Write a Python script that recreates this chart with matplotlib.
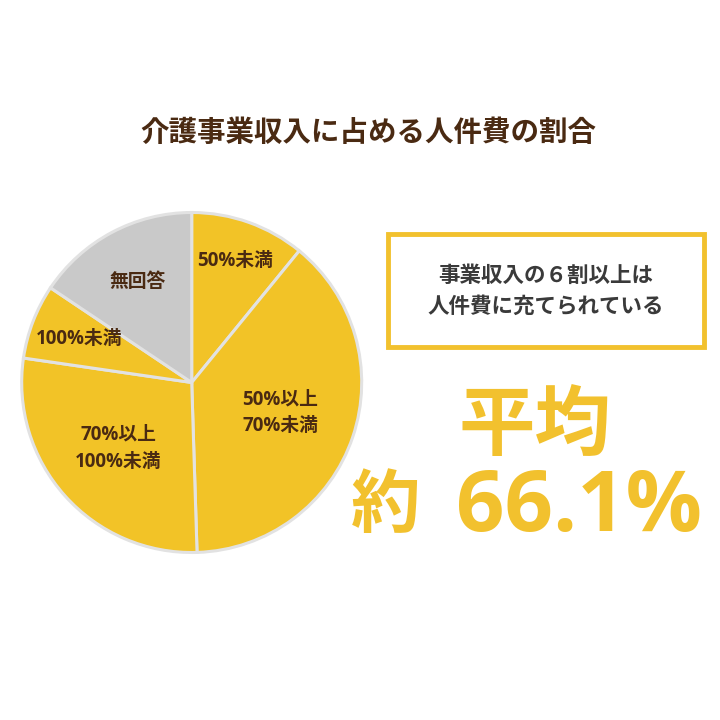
import numpy as np
import matplotlib
matplotlib.use("Agg")
import matplotlib.pyplot as plt
from matplotlib.patches import Rectangle

plt.rcParams['font.family'] = ['Noto Sans CJK JP', 'DejaVu Sans']
mixed = ['Open Sans', 'Noto Sans CJK JP']

# 割合（%）: 時計回り、12時の位置から
labels = ['50%未満', '50%以上\n70%未満', '70%以上\n100%未満', '100%未満', '無回答']
shares = [10.9, 38.6, 27.8, 7.1, 15.6]
colors = ['#F2C327', '#F2C327', '#F2C327', '#F2C327', '#C9C9C9']
label_r = [0.76, 0.55, 0.58, 0.71, 0.67]

title = '介護事業収入に占める人件費の割合'
box_text = '事業収入の６割以上は\n人件費に充てられている'
avg_text = '平均'
avg_prefix = '約'
avg_value = '66.1%'

brown = '#4A2A12'
yellow = '#F2C12E'

fig = plt.figure(figsize=(7.2, 7.2), dpi=100)
ax = fig.add_axes([0, 0, 1, 1])

cx, cy, R = 191.7, 720 - 382.5, 170
wedges, _ = ax.pie(shares, colors=colors, startangle=90, counterclock=False,
                   center=(cx, cy), radius=R,
                   wedgeprops=dict(edgecolor='#E2E2E2', linewidth=2.2))

for w, lab, d in zip(wedges, labels, label_r):
    mid = np.deg2rad((w.theta1 + w.theta2) / 2)
    ax.text(cx + d * R * np.cos(mid), cy + d * R * np.sin(mid), lab,
            ha='center', va='center', fontsize=13.5, fontweight='bold',
            color=brown, linespacing=1.45, family=mixed)

ax.set_xlim(0, 720)
ax.set_ylim(0, 720)
ax.set_aspect('equal')
ax.axis('off')

fig.text(368 / 720, 1 - 133 / 720, title, ha='center', va='center',
         fontsize=20.5, fontweight='bold', color=brown)

ax.add_patch(Rectangle((388, 720 - 347), 316, 113, fill=False,
                       edgecolor=yellow, linewidth=3.5))
fig.text(546 / 720, 1 - 291 / 720, box_text, ha='center', va='center',
         fontsize=15.5, fontweight='bold', color='#3A3A3A', linespacing=1.6)

fig.text(535 / 720, 1 - 427 / 720, avg_text, ha='center', va='center',
         fontsize=55, fontweight='bold', color=yellow)
fig.text(386 / 720, 1 - 507 / 720, avg_prefix, ha='center', va='center',
         fontsize=50, fontweight='bold', color=yellow)
fig.text(456 / 720, 1 - 509 / 720, avg_value, ha='left', va='center',
         fontsize=61, fontweight='bold', color=yellow, family=mixed)

fig.savefig('out.png', dpi=100, facecolor='white')
